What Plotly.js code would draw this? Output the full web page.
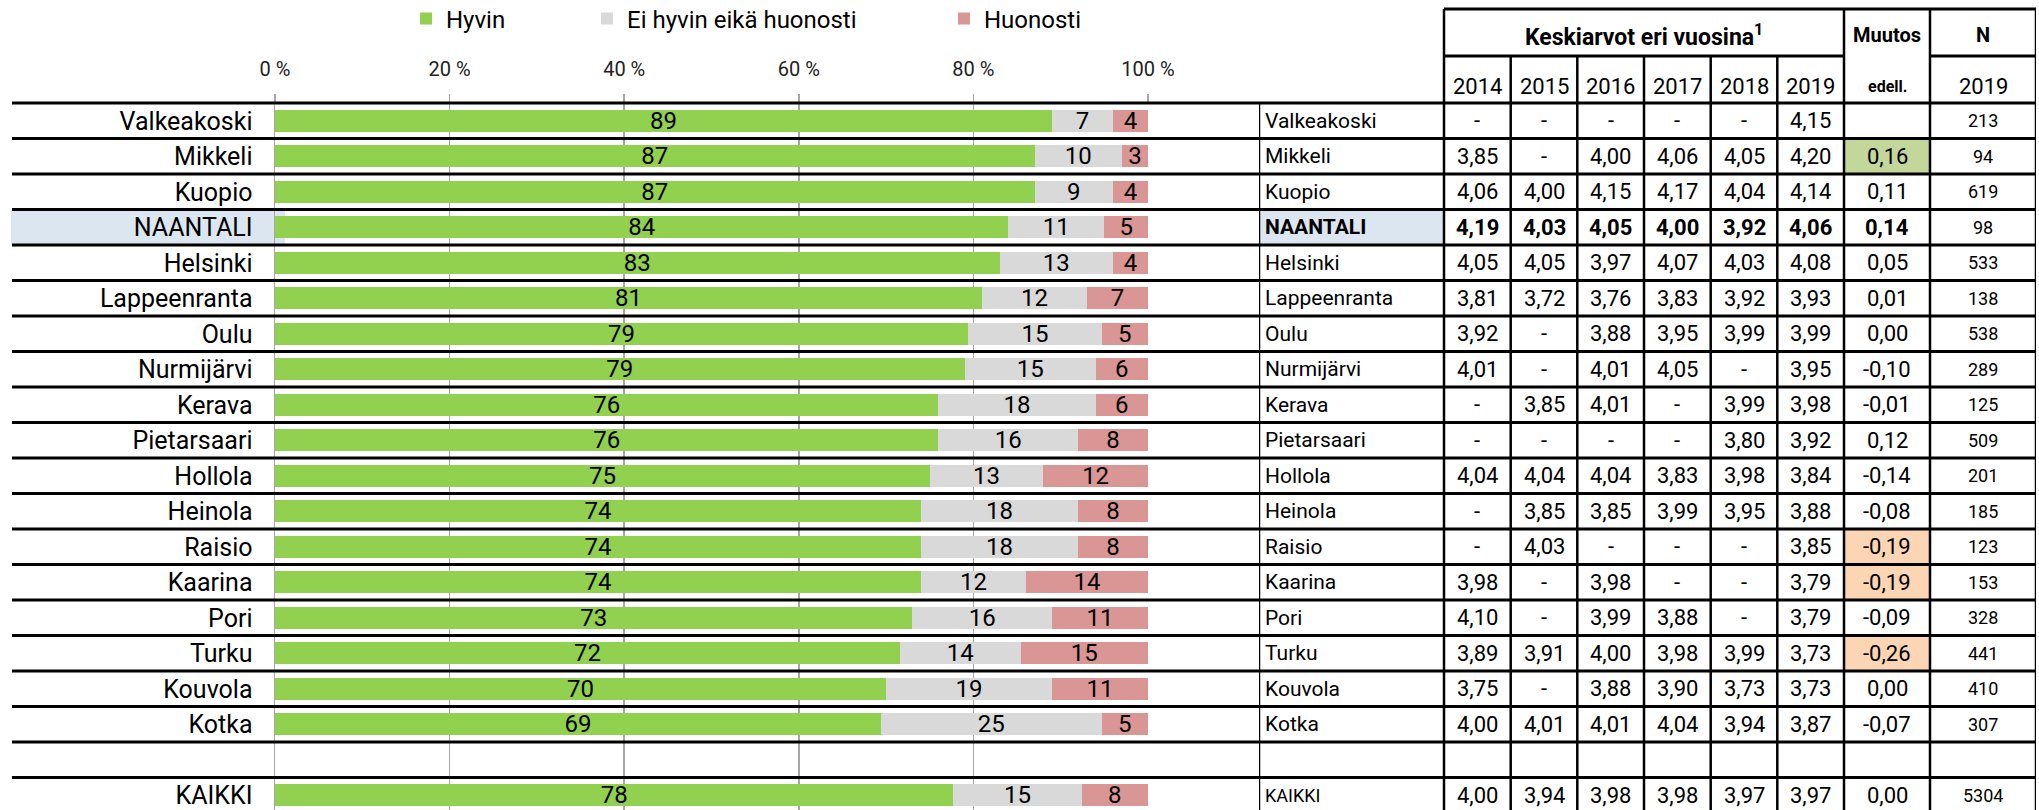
<!DOCTYPE html>
<html>
<head>
<meta charset="utf-8">
<script src="https://cdn.plot.ly/plotly-3.0.1.min.js"></script>
<style>
  html, body { margin: 0; padding: 0; background: #fff; }
  #chart { width: 2039px; height: 810px; }
</style>
</head>
<body>
<div id="chart"></div>
<script>
// ---------- DATA ----------
const cities = ['Valkeakoski','Mikkeli','Kuopio','NAANTALI','Helsinki','Lappeenranta','Oulu','Nurmijärvi','Kerava','Pietarsaari','Hollola','Heinola','Raisio','Kaarina','Pori','Turku','Kouvola','Kotka','KAIKKI'];
const spacerLabel = ' ';
const highlightCity = 'NAANTALI';

const seriesNames = ['Hyvin', 'Ei hyvin eikä huonosti', 'Huonosti'];
const hyvin    = [89, 87, 87, 84, 83, 81, 79.4, 79, 76, 76, 75, 74, 74, 74, 73, 71.6, 70, 69.4, 77.7];
const eiHyvin  = [7, 10, 9, 11, 13, 12, 15.3, 15, 18, 16, 13, 18, 18, 12, 16, 13.8, 19, 25.3, 14.7];
const huonosti = [4, 3, 4, 5, 4, 7, 5.3, 6, 6, 8, 12, 8, 8, 14, 11, 14.6, 11, 5.3, 7.6];

const xTickVals = [0, 20, 40, 60, 80, 100];
const xTickText = ['0 %', '20 %', '40 %', '60 %', '80 %', '100 %'];

const tableTitle = 'Keskiarvot eri vuosina<sup>1</sup>';
const years = ['2014', '2015', '2016', '2017', '2018', '2019'];
const avg2014 = [null, 3.85, 4.06, 4.19, 4.05, 3.81, 3.92, 4.01, null, null, 4.04, null, null, 3.98, 4.10, 3.89, 3.75, 4.00, 4.00];
const avg2015 = [null, null, 4.00, 4.03, 4.05, 3.72, null, null, 3.85, null, 4.04, 3.85, 4.03, null, null, 3.91, null, 4.01, 3.94];
const avg2016 = [null, 4.00, 4.15, 4.05, 3.97, 3.76, 3.88, 4.01, 4.01, null, 4.04, 3.85, null, 3.98, 3.99, 4.00, 3.88, 4.01, 3.98];
const avg2017 = [null, 4.06, 4.17, 4.00, 4.07, 3.83, 3.95, 4.05, null, null, 3.83, 3.99, null, null, 3.88, 3.98, 3.90, 4.04, 3.98];
const avg2018 = [null, 4.05, 4.04, 3.92, 4.03, 3.92, 3.99, null, 3.99, 3.80, 3.98, 3.95, null, null, null, 3.99, 3.73, 3.94, 3.97];
const avg2019 = [4.15, 4.20, 4.14, 4.06, 4.08, 3.93, 3.99, 3.95, 3.98, 3.92, 3.84, 3.88, 3.85, 3.79, 3.79, 3.73, 3.73, 3.87, 3.97];
const muutos  = [null, 0.16, 0.11, 0.14, 0.05, 0.01, 0.00, -0.10, -0.01, 0.12, -0.14, -0.08, -0.19, -0.19, -0.09, -0.26, 0.00, -0.07, 0.00];
const nResp   = [213, 94, 619, 98, 533, 138, 538, 289, 125, 509, 201, 185, 123, 153, 328, 441, 410, 307, 5304];
const muutosHeader = 'Muutos';
const muutosSub = 'edell.';
const nHeader = 'N';
const nSub = '2019';

// ---------- LAYOUT CONSTANTS ----------
const W = 2039, H = 810;
const FONT = 'Roboto, "Open Sans", "Liberation Sans", sans-serif';
const colors = ['#92d050', '#d9d9d9', '#da9694'];
const blueBg = '#dce6f1', greenBg = '#c4d79b', orangeBg = '#fcd5b4';
const gridCol = '#a6a6a6';
const rowTop = 103, rowH = 35.5;
const idx = py => -0.5 + (py - rowTop) / rowH;          // pixel row -> row index units
const plotX0 = 275, plotX1 = 1148;                          // 0 % and 100 %
const tabX0 = 1259, tabX1 = 2036;
const colEdges = [0, 185, 251.7, 318.3, 385, 451.7, 518.3, 585, 671, 777]; // offsets within table
const lineLeft = 12;

const categoryOrder = cities.slice(0, -1).concat([spacerLabel, cities[cities.length - 1]]);
const rowIndex = c => categoryOrder.indexOf(c);

// ---------- TRACES ----------
const seriesData = [hyvin, eiHyvin, huonosti];
const traces = seriesData.map((vals, s) => ({
  type: 'bar',
  orientation: 'h',
  name: seriesNames[s],
  x: vals,
  y: cities,
  xaxis: 'x', yaxis: 'y',
  marker: { color: colors[s], line: { width: 0 } },
  text: vals.map(v => String(Math.round(v))),
  textposition: 'inside',
  insidetextanchor: 'middle',
  constraintext: 'none',
  textangle: 0,
  insidetextfont: { family: FONT, size: 24, color: '#000' },
  hoverinfo: 'skip',
  legend: s === 0 ? 'legend' : (s === 1 ? 'legend2' : 'legend3')
}));

// ---------- SHAPES ----------
const shapes = [];
shapes.push({ type: 'rect', xref: 'paper', yref: 'y2', x0: 11 / W, x1: 285 / W,
  y0: rowIndex(highlightCity) - 0.5, y1: rowIndex(highlightCity) + 0.5,
  fillcolor: blueBg, line: { width: 0 }, layer: 'below' });
shapes.push({ type: 'rect', xref: 'x2', yref: 'y2', x0: colEdges[0], x1: colEdges[1],
  y0: rowIndex(highlightCity) - 0.5, y1: rowIndex(highlightCity) + 0.5,
  fillcolor: blueBg, line: { width: 0 }, layer: 'below' });
cities.forEach((c, j) => {
  const m = muutos[j];
  if (m == null) return;
  let fc = null;
  if (m >= 0.15) fc = greenBg;
  else if (m <= -0.15) fc = orangeBg;
  if (!fc) return;
  const r = rowIndex(c);
  shapes.push({ type: 'rect', xref: 'x2', yref: 'y2', x0: colEdges[7], x1: colEdges[8],
    y0: r - 0.5, y1: r + 0.5, fillcolor: fc, line: { width: 0 }, layer: 'below' });
});
for (let k = 0; k < categoryOrder.length; k++) {
  const yb = k - 0.5;
  shapes.push({ type: 'line', xref: 'paper', yref: 'y2', x0: lineLeft / W, x1: tabX1 / W,
    y0: yb, y1: yb, line: { color: '#000', width: 3 } });
}
const yHead0 = idx(9), yHead1 = idx(56), yBottom = idx(H) + 1;
shapes.push({ type: 'line', xref: 'x2', yref: 'y2', x0: colEdges[1], x1: colEdges[9], y0: yHead0, y1: yHead0, line: { color: '#000', width: 3 } });
shapes.push({ type: 'line', xref: 'x2', yref: 'y2', x0: colEdges[1], x1: colEdges[7], y0: yHead1, y1: yHead1, line: { color: '#000', width: 3 } });
shapes.push({ type: 'line', xref: 'x2', yref: 'y2', x0: colEdges[8], x1: colEdges[9], y0: yHead1, y1: yHead1, line: { color: '#000', width: 3 } });
colEdges.forEach((cx, i) => {
  let ytop;
  if (i === 0) ytop = -0.5;
  else if (i >= 2 && i <= 6) ytop = yHead1;
  else ytop = yHead0;
  shapes.push({ type: 'line', xref: 'x2', yref: 'y2', x0: cx, x1: cx, y0: ytop, y1: yBottom,
    line: { color: '#000', width: 2.5 } });
});

// ---------- ANNOTATIONS ----------
const annotations = [];
const ann = (x, y, text, size, extra) => Object.assign({ xref: 'x2', yref: 'y2', x, y, text, showarrow: false,
  font: { family: FONT, size, color: '#000' }, xanchor: 'center', yanchor: 'middle' }, extra || {});
const colMid = i => (colEdges[i] + colEdges[i + 1]) / 2;
const fmt = v => v.toFixed(2).replace('.', ',');
const yHeadA = idx(35), yHeadB = idx(86);

annotations.push(ann((colEdges[1] + colEdges[7]) / 2, yHeadA, '<b>' + tableTitle + '</b>', 23));
annotations.push(ann(colMid(7), yHeadA, '<b>' + muutosHeader + '</b>', 20));
annotations.push(ann(colMid(7), yHeadB, '<b>' + muutosSub + '</b>', 16));
annotations.push(ann(colMid(8), yHeadA, '<b>' + nHeader + '</b>', 20));
annotations.push(ann(colMid(8), yHeadB, nSub, 22));
years.forEach((yr, i) => annotations.push(ann(colMid(1 + i), yHeadB, yr, 22)));

const yearCols = [avg2014, avg2015, avg2016, avg2017, avg2018, avg2019];
cities.forEach((c, j) => {
  const r = rowIndex(c);
  const bold = c === highlightCity;
  const b = t => bold ? '<b>' + t + '</b>' : t;
  const isTotal = j === cities.length - 1;
  annotations.push(ann(4, r, b(c), isTotal ? 18 : 21, { xanchor: 'left' }));
  yearCols.forEach((arr, i) => {
    annotations.push(ann(colMid(1 + i), r, b(arr[j] == null ? '-' : fmt(arr[j])), 22));
  });
  if (muutos[j] != null) annotations.push(ann(colMid(7), r, b(fmt(muutos[j])), 22));
  annotations.push(ann(colMid(8), r, String(nResp[j]), 18));
});

// ---------- LAYOUT ----------
const legendBase = (px) => ({
  xref: 'container', yref: 'container', x: px / W, y: 1 - 19 / H,
  xanchor: 'left', yanchor: 'middle', orientation: 'h',
  bgcolor: 'rgba(0,0,0,0)', borderwidth: 0,
  font: { family: FONT, size: 24, color: '#000' }
});

const layout = {
  width: W, height: H,
  margin: { l: 0, r: 0, t: 0, b: 0, pad: 0, autoexpand: false },
  paper_bgcolor: '#fff', plot_bgcolor: 'rgba(0,0,0,0)',
  font: { family: FONT, color: '#000' },
  barmode: 'stack',
  bargap: 0.38,
  showlegend: true,
  legend: legendBase(406),
  legend2: legendBase(587),
  legend3: legendBase(944),
  xaxis: {
    domain: [plotX0 / W, plotX1 / W], anchor: 'y', side: 'top',
    range: [0, 100], fixedrange: true,
    tickmode: 'array', tickvals: xTickVals, ticktext: xTickText,
    ticks: 'outside', ticklen: 8, tickcolor: gridCol, tickwidth: 1.5,
    ticklabelstandoff: 10,
    tickfont: { family: FONT, size: 20, color: '#222' },
    showgrid: true, gridcolor: gridCol, gridwidth: 1.5,
    zeroline: false, showline: false
  },
  yaxis: {
    domain: [0, (H - rowTop) / H], anchor: 'x',
    type: 'category', categoryorder: 'array', categoryarray: categoryOrder,
    range: [idx(H), -0.5], fixedrange: true,
    ticks: 'outside', tickson: 'boundaries', ticklen: 8, tickcolor: gridCol, tickwidth: 1.5,
    ticklabelstandoff: 16,
    tickfont: { family: FONT, size: 25, color: '#000' },
    showgrid: false, zeroline: false,
    showline: true, linecolor: gridCol, linewidth: 1.5
  },
  xaxis2: {
    domain: [tabX0 / W, tabX1 / W], anchor: 'y2',
    range: [0, colEdges[colEdges.length - 1]], visible: false, fixedrange: true
  },
  yaxis2: {
    domain: [0, 1], anchor: 'x2',
    range: [idx(H), idx(0)], visible: false, fixedrange: true
  },
  shapes, annotations
};

traces.push({ type: 'scatter', x: [], y: [], xaxis: 'x2', yaxis: 'y2', showlegend: false, hoverinfo: 'skip' });

Plotly.newPlot('chart', traces, layout, { displayModeBar: false, staticPlot: true });
</script>
</body>
</html>
